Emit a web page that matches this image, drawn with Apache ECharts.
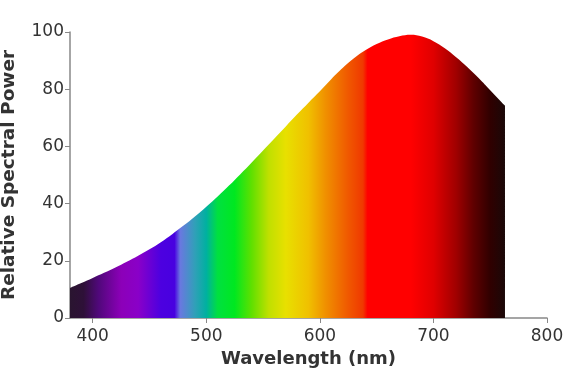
<!DOCTYPE html>
<html>
<head>
<meta charset="utf-8">
<script src="https://cdn.jsdelivr.net/npm/echarts@6/dist/echarts.min.js"></script>
<style>html,body{margin:0;padding:0;background:#fff}#c{width:568px;height:379px}</style>
</head>
<body>
<div id="c"></div>
<script>
// Data
const wavelengths = [380,390,400,410,420,430,440,450,460,470,480,490,500,510,520,530,540,550,560,570,580,590,600,610,620,630,640,650,660,670,680,690,700,710,720,730,740,750,760,763];
const relativePower = [10.5,12.2,14.0,15.8,17.7,19.7,21.8,24.0,26.5,29.3,32.3,35.5,38.9,42.5,46.3,50.3,54.4,58.6,62.8,67.0,71.2,75.3,79.3,83.5,87.4,90.8,93.6,95.8,97.4,98.5,99.0,98.4,96.8,94.3,91.2,87.7,83.8,79.6,75.4,74.2];
const xTickValues = [400,500,600,700,800];

// Spectrum colour stops (wavelength -> colour)
const stopNm = [380,392,405,425,440,460,472,477,490,500,510,525,540,555,570,590,605,625,638,642,680,700,720,735,750,763];
const stopColor = ['#2a1530','#2e1038','#50087a','#8c00b8','#8a00c8','#4c00e0','#4800e0','#6a78e0','#30a0b8','#00b0a0','#00e040','#00e820','#60e000','#c0e000','#e8e000','#f0c000','#f09000','#f05800','#f03800','#ff0000','#ff0000','#e00000','#a00000','#600000','#300000','#1a0808'];

const lo = wavelengths[0], hi = wavelengths[wavelengths.length-1];
const stops = stopNm.map((w,i)=>({offset:(w-lo)/(hi-lo), color:stopColor[i]}));

const chart = echarts.init(document.getElementById('c'));
const font = 'DejaVu Sans';
chart.setOption({
  animation:false,
  grid:{left:70,right:21,top:32,bottom:61,containLabel:false,outerBoundsMode:'none'},
  xAxis:{
    type:'value', min:380, max:800,
    name:'Wavelength (nm)', nameLocation:'middle', nameGap:30,
    nameTextStyle:{fontFamily:font,fontWeight:'bold',fontSize:18,color:'#333'},
    axisLine:{show:true,lineStyle:{color:'#888',width:1.5}},
    axisTick:{show:true,length:5,lineStyle:{color:'#888'},customValues:xTickValues},
    axisLabel:{fontFamily:font,fontSize:17,color:'#333',margin:10,customValues:xTickValues},
    splitLine:{show:false}
  },
  yAxis:{
    type:'value', min:0, max:100, interval:20,
    name:'Relative Spectral Power', nameLocation:'middle', nameGap:51,
    nameTextStyle:{fontFamily:font,fontWeight:'bold',fontSize:18.5,color:'#333'},
    axisLine:{show:true,lineStyle:{color:'#888',width:1.5}},
    axisTick:{show:true,length:5,lineStyle:{color:'#888'}},
    axisLabel:{fontFamily:font,fontSize:17,color:'#333',margin:6},
    splitLine:{show:false}
  },
  series:[{
    type:'line',
    data:wavelengths.map((w,i)=>[w,relativePower[i]]),
    smooth:0.4,
    showSymbol:false,
    lineStyle:{width:0},
    areaStyle:{opacity:1,color:new echarts.graphic.LinearGradient(0,0,1,0,stops)}
  }]
});
</script>
</body>
</html>
